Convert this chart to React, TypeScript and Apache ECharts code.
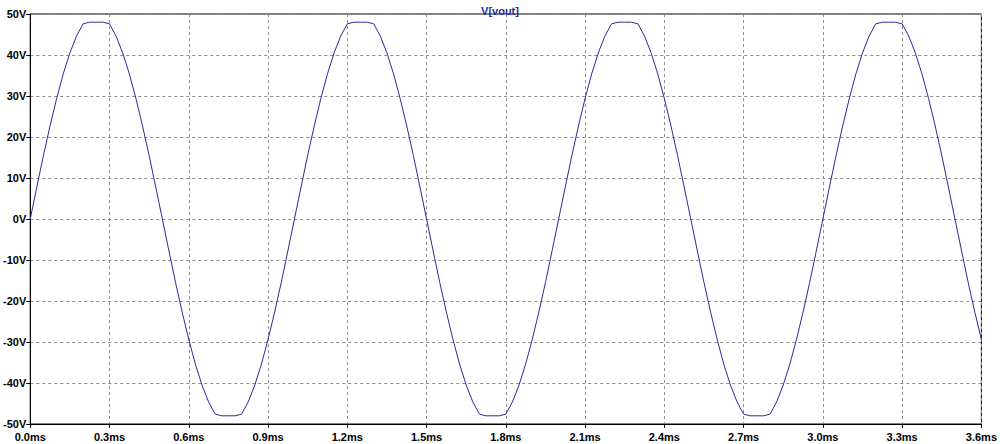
import React, { useEffect, useRef } from "react";
import * as echarts from "echarts";

const SERIES_NAME = "V[vout]";
const SAMPLE_STEP_MS = 0.025;
const X_TICKS_MS = [0, 0.3, 0.6, 0.9, 1.2, 1.5, 1.8, 2.1, 2.4, 2.7, 3.0, 3.3, 3.6];
const Y_TICKS_V = [-50, -40, -30, -20, -10, 0, 10, 20, 30, 40, 50];

// V(vout) in volts, read every 0.025 ms from 0.0 ms to 3.6 ms
const VOUT = [
  0, 7.8, 15.5, 22.7, 29.4, 35.4, 40.5, 44.6, 47.6, 48, 48, 48, 47.6, 44.6, 40.5, 35.4, 29.4, 22.7, 15.5, 7.8,
  0, -7.8, -15.5, -22.7, -29.4, -35.4, -40.5, -44.6, -47.6, -48, -48, -48, -47.6, -44.6, -40.5, -35.4, -29.4, -22.7, -15.5, -7.8,
  0, 7.8, 15.5, 22.7, 29.4, 35.4, 40.5, 44.6, 47.6, 48, 48, 48, 47.6, 44.6, 40.5, 35.4, 29.4, 22.7, 15.5, 7.8,
  0, -7.8, -15.5, -22.7, -29.4, -35.4, -40.5, -44.6, -47.6, -48, -48, -48, -47.6, -44.6, -40.5, -35.4, -29.4, -22.7, -15.5, -7.8,
  0, 7.8, 15.5, 22.7, 29.4, 35.4, 40.5, 44.6, 47.6, 48, 48, 48, 47.6, 44.6, 40.5, 35.4, 29.4, 22.7, 15.5, 7.8,
  0, -7.8, -15.5, -22.7, -29.4, -35.4, -40.5, -44.6, -47.6, -48, -48, -48, -47.6, -44.6, -40.5, -35.4, -29.4, -22.7, -15.5, -7.8,
  0, 7.8, 15.5, 22.7, 29.4, 35.4, 40.5, 44.6, 47.6, 48, 48, 48, 47.6, 44.6, 40.5, 35.4, 29.4, 22.7, 15.5, 7.8,
  0, -7.8, -15.5, -22.7, -29.4,
];

const FONT = "'Liberation Sans', Arial, sans-serif";

export default function App() {
  const ref = useRef<HTMLDivElement>(null);
  useEffect(() => {
    if (!ref.current) return;
    const chart = echarts.init(ref.current, undefined, { renderer: "svg" });
    const data = VOUT.map((v, i) => [i * SAMPLE_STEP_MS, v]);
    chart.setOption({
      animation: false,
      backgroundColor: "#ffffff",
      title: {
        text: SERIES_NAME,
        left: "center",
        top: 0,
        textStyle: { fontFamily: FONT, fontSize: 11, fontWeight: "bold", color: "#2a2a9c" },
      },
      grid: {
        left: 26,
        right: 15,
        top: 14,
        bottom: 20,
        show: true,
        borderColor: "#000000",
        borderWidth: 1,
        backgroundColor: "transparent",
      },
      xAxis: {
        type: "value",
        min: X_TICKS_MS[0],
        max: X_TICKS_MS[X_TICKS_MS.length - 1],
        interval: 0.3,
        axisLine: { show: true, onZero: false, lineStyle: { color: "#000000", width: 1 } },
        axisTick: { show: true, length: 4, lineStyle: { color: "#000000" } },
        axisLabel: {
          formatter: (v: number) => v.toFixed(1) + "ms",
          color: "#000000",
          fontFamily: FONT,
          fontSize: 11,
          fontWeight: "bold",
          margin: 7,
          showMinLabel: true,
          showMaxLabel: true,
        },
        splitLine: { show: true, lineStyle: { color: "#8c8c8c", type: [3, 3], width: 1 } },
      },
      yAxis: {
        type: "value",
        min: Y_TICKS_V[0],
        max: Y_TICKS_V[Y_TICKS_V.length - 1],
        interval: 10,
        axisLine: { show: true, onZero: false, lineStyle: { color: "#000000", width: 1 } },
        axisTick: { show: true, length: 4, lineStyle: { color: "#000000" } },
        axisLabel: {
          formatter: (v: number) => v + "V",
          color: "#000000",
          fontFamily: FONT,
          fontSize: 11,
          fontWeight: "bold",
          margin: 4,
        },
        splitLine: { show: true, lineStyle: { color: "#8c8c8c", type: [3, 3], width: 1 } },
      },
      series: [
        {
          name: SERIES_NAME,
          type: "line",
          data,
          showSymbol: false,
          smooth: false,
          lineStyle: { color: "#2a2a9c", width: 1 },
        },
      ],
    });
    return () => chart.dispose();
  }, []);
  return (
    <div
      ref={ref}
      style={{ position: "fixed", left: 0, top: 0, width: 1000, height: 444 }}
    />
  );
}
